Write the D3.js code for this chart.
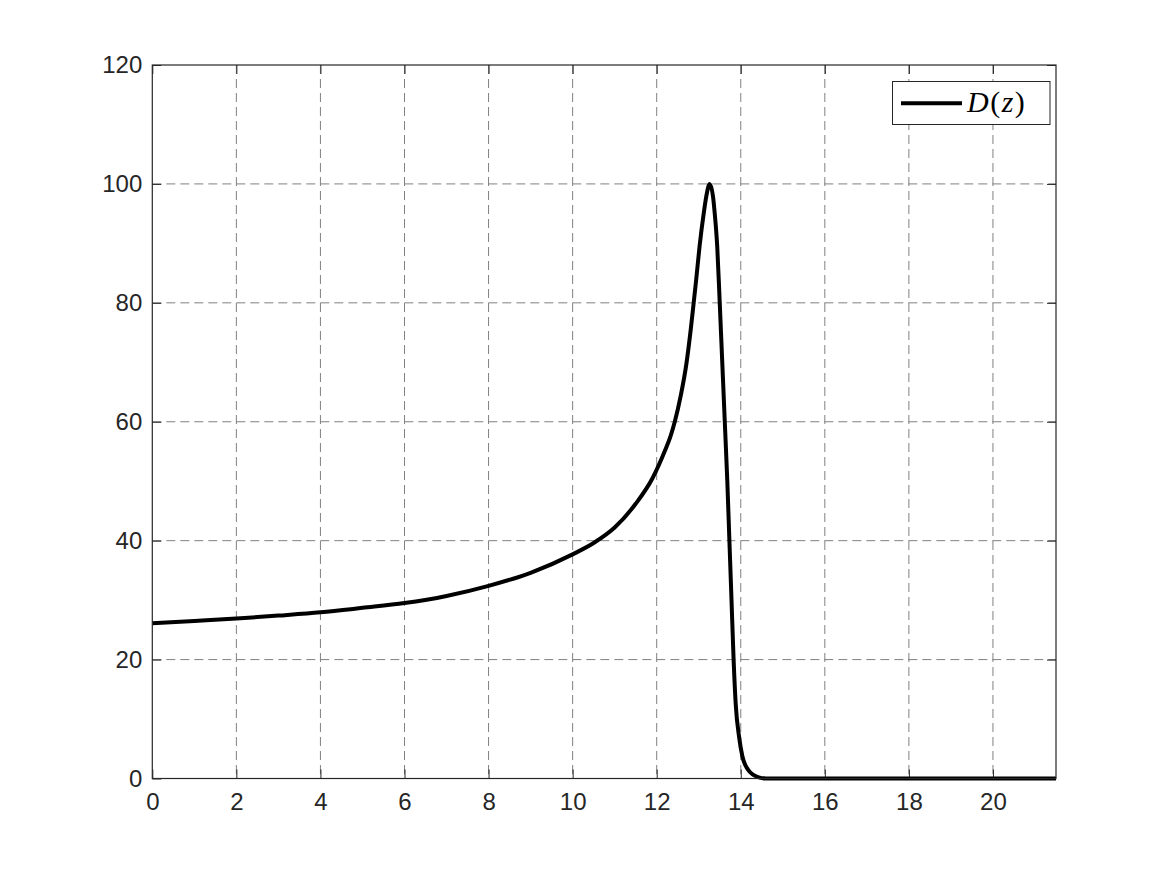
<!DOCTYPE html>
<html lang="en">
<head>
<meta charset="UTF-8">
<script src="https://d3js.org/d3.v7.min.js"></script>
<style>
  body { margin: 0; background: #fff; }
  svg { display: block; }
  .tick text { font-family: "Liberation Sans", Arial, Helvetica, sans-serif; font-size: 24px; fill: #262626; }
  .grid line { stroke: #808080; stroke-width: 1; stroke-dasharray: 9,5; }
</style>
</head>
<body>
<script>
// values: D(z)
const zVals = [0, 1, 2, 3, 4, 5, 6, 7, 8, 9, 10, 10.5, 11, 11.5, 11.9, 12.2, 12.33, 12.43, 12.57, 12.71,
  12.81, 12.88, 12.94, 13.02, 13.12, 13.18, 13.26, 13.34, 13.38, 13.44, 13.5, 13.56, 13.62, 13.68,
  13.73, 13.78, 13.83, 13.88, 13.96, 14.04, 14.17, 14.3, 14.45, 14.6, 21.5];
const dVals = [26.1, 26.5, 26.9, 27.4, 27.95, 28.7, 29.5, 30.7, 32.4, 34.6, 37.7, 39.6, 42.2, 46.2, 50.5,
  55.2, 57.6, 60, 64.3, 69.9, 75.5, 80, 83.9, 89.5, 95.1, 97.9, 100, 97.9, 95.1, 89.5, 80, 70, 60, 50,
  40, 30, 20, 12.5, 7, 3.7, 1.5, 0.6, 0.15, 0, 0];
const xTicks = [0, 2, 4, 6, 8, 10, 12, 14, 16, 18, 20];
const yTicks = [0, 20, 40, 60, 80, 100, 120];

const W = 1167, H = 875;
const pL = 152.3, pR = 1056, pT = 65, pB = 778.5;

const svg = d3.select('body').append('svg').attr('width', W).attr('height', H);

const x = d3.scaleLinear().domain([0, 21.5]).range([pL, pR]);
const y = d3.scaleLinear().domain([0, 120]).range([pB, pT]);

// grid
const grid = svg.append('g').attr('class', 'grid');
grid.selectAll('line.gx').data(xTicks.filter(d => d > 0)).enter().append('line')
    .attr('x1', d => x(d)).attr('x2', d => x(d)).attr('y1', pT).attr('y2', pB);
grid.selectAll('line.gy').data(yTicks.filter(d => d > 0 && d < 120)).enter().append('line')
    .attr('y1', d => y(d)).attr('y2', d => y(d)).attr('x1', pL).attr('x2', pR);

// axes with inward ticks, mirrored on top/right
const tl = 9;
const axColor = '#262626';
const gx = svg.append('g').attr('transform', `translate(0,${pB})`)
    .call(d3.axisBottom(x).tickValues(xTicks).tickSize(-tl).tickPadding(14).tickSizeOuter(0));
const gy = svg.append('g').attr('transform', `translate(${pL},0)`)
    .call(d3.axisLeft(y).tickValues(yTicks).tickSize(-tl).tickPadding(10).tickSizeOuter(0));
const gxt = svg.append('g').attr('transform', `translate(0,${pT})`)
    .call(d3.axisTop(x).tickValues(xTicks).tickSize(-tl).tickFormat('').tickSizeOuter(0));
const gyr = svg.append('g').attr('transform', `translate(${pR},0)`)
    .call(d3.axisRight(y).tickValues(yTicks).tickSize(-tl).tickFormat('').tickSizeOuter(0));
[gx, gy, gxt, gyr].forEach(g => {
  g.select('.domain').remove();
  g.selectAll('.tick line').attr('stroke', axColor);
});

// curve
const line = d3.line().x((d, i) => x(zVals[i])).y(d => y(d)).curve(d3.curveMonotoneX);
svg.append('path').datum(dVals)
    .attr('d', line)
    .attr('fill', 'none').attr('stroke', '#000').attr('stroke-width', 4).attr('stroke-linejoin', 'round');

// box
svg.append('rect').attr('x', pL).attr('y', pT).attr('width', pR - pL).attr('height', pB - pT)
    .attr('fill', 'none').attr('stroke', axColor).attr('stroke-width', 1.2);

// legend
const lg = svg.append('g');
lg.append('rect').attr('x', 892.5).attr('y', 81.5).attr('width', 157.5).attr('height', 43)
    .attr('fill', '#fff').attr('stroke', axColor).attr('stroke-width', 1);
lg.append('line').attr('x1', 901).attr('x2', 962).attr('y1', 103.3).attr('y2', 103.3)
    .attr('stroke', '#000').attr('stroke-width', 4);
const lt = lg.append('text').attr('x', 967).attr('y', 112)
    .style('font-family', '"Liberation Serif", "Times New Roman", serif').style('font-size', '30px')
    .style('letter-spacing', '1.5px').attr('fill', '#000');
lt.append('tspan').style('font-style', 'italic').text('D');
lt.append('tspan').text('(');
lt.append('tspan').style('font-style', 'italic').text('z');
lt.append('tspan').text(')');
</script>
</body>
</html>
